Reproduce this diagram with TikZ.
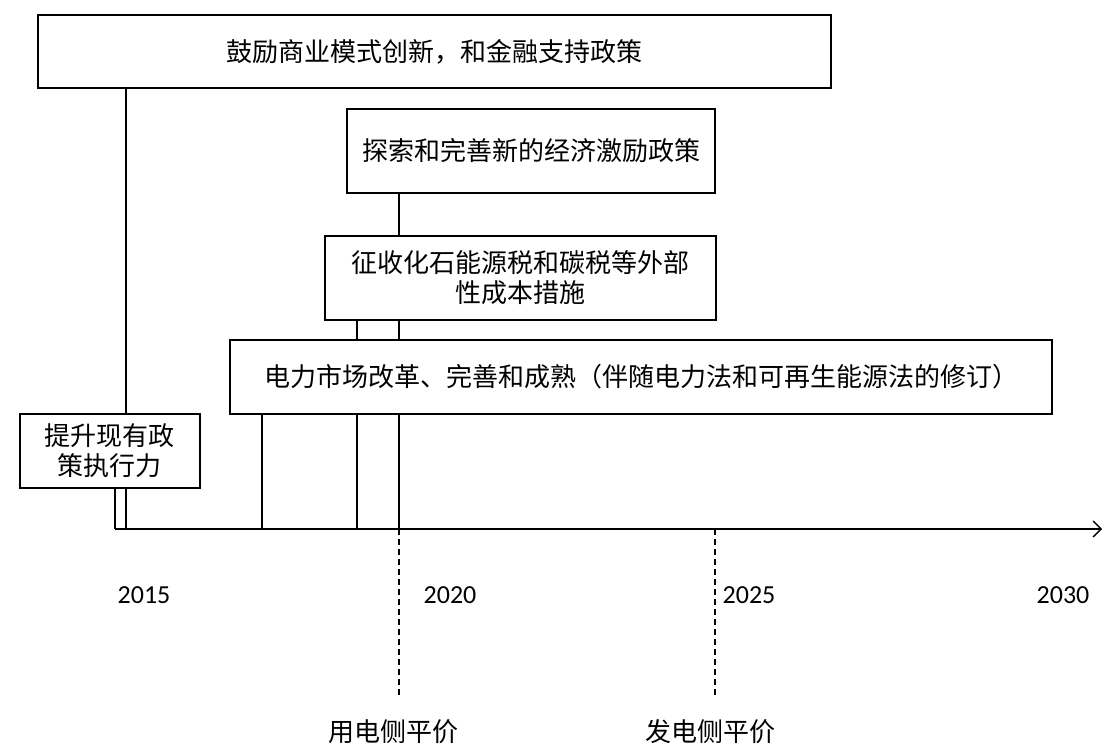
\documentclass[tikz,border=0pt]{standalone}
\usepackage{fontspec}
\setmainfont{Carlito}
\newfontfamily\cjk{Noto Sans CJK SC}
\usetikzlibrary{arrows.meta, positioning}

\begin{document}
\begin{tikzpicture}[x=1pt, y=-1pt, line width=1.3pt,
  box/.style={draw, fill=white, inner sep=0pt, align=center, font=\cjk\fontsize{26}{30}\selectfont},
  year/.style={font=\fontsize{26}{30}\selectfont},
  parity/.style={font=\cjk\fontsize{26}{30}\selectfont}]
  \useasboundingbox (0,0) rectangle (1104,745);

  % points on the time axis
  \coordinate (a0) at (115,529);
  \coordinate (a1) at (126,529);
  \coordinate (a2) at (262,529);
  \coordinate (a3) at (357,529);
  \coordinate (a4) at (399,529);
  \coordinate (a5) at (715,529);
  \coordinate (aend) at (1102,529);
  \coordinate (p1) at (399,697);
  \coordinate (p2) at (715,697);

  % policy boxes
  \node[box, minimum width=793, minimum height=73] (top) at (434.5,51.5) {鼓励商业模式创新，和金融支持政策};
  \node[box, minimum width=368, minimum height=84] (incent) at (531,151) {探索和完善新的经济激励政策};
  \node[box, minimum width=391, minimum height=84] (tax) at (520.5,278) {征收化石能源税和碳税等外部\\性成本措施};
  \node[box, minimum width=822, minimum height=74] (market) at (641,377) {电力市场改革、完善和成熟（伴随电力法和可再生能源法的修订）};

  % links down to the axis
  \draw (a1 |- top.south) -- (a1);
  \draw (incent.south -| a4) -- (tax.north -| a4);
  \draw (tax.south -| a3) -- (market.north -| a3);
  \draw (tax.south -| a4) -- (market.north -| a4);
  \draw (market.south -| a2) -- (a2);
  \draw (market.south -| a3) -- (a3);
  \draw (market.south -| a4) -- (a4);

  \node[box, minimum width=180, minimum height=74] (exec) at (110,451) {提升现有政\\策执行力};
  \draw (exec.south -| a0) -- (a0);

  % time axis
  \draw[-{Straight Barb[length=8pt, width=16pt]}] (a0) -- (aend);
  \draw[dashed, dash pattern=on 6pt off 4pt] (a4) -- (p1);
  \draw[dashed, dash pattern=on 6pt off 4pt] (a5) -- (p2);

  % years
  \node[year] (y15) at (144,595) {2015};
  \node[year] (y20) at (450,595) {2020};
  \node[year] (y25) at (749,595) {2025};
  \node[year] (y30) at (1063,595) {2030};

  % grid parity
  \node[parity] (user) at (393,732) {用电侧平价};
  \node[parity] (gen) at (710,732) {发电侧平价};
\end{tikzpicture}
\end{document}
